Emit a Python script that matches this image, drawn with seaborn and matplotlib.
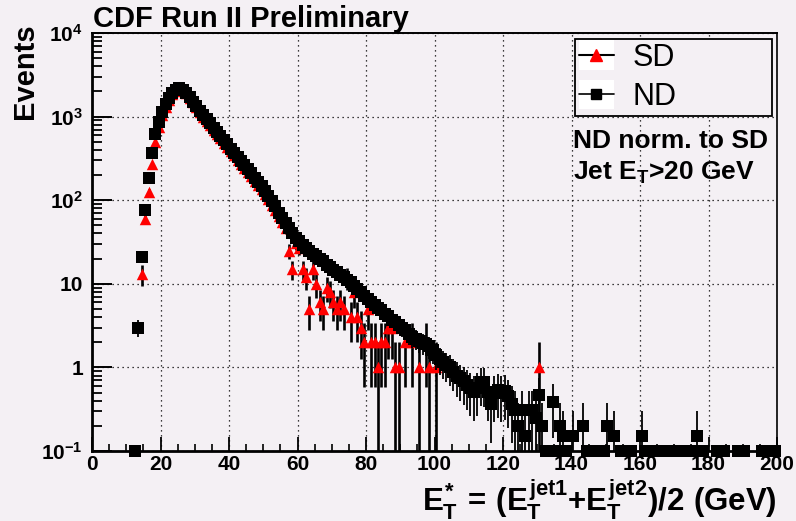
import numpy as np
import pandas as pd
import matplotlib
matplotlib.use("Agg")
import matplotlib.pyplot as plt
import seaborn as sns
from matplotlib.legend_handler import HandlerLine2D
from matplotlib.lines import Line2D
from matplotlib.patches import Rectangle
from matplotlib.ticker import LogLocator, NullFormatter, MultipleLocator

# ---------------- data (1 GeV bins, centres 12.5 ... 199.5) ----------------
et_centers = np.arange(12.5, 200.0, 1.0)

nan = np.nan
nd_events = [
    0.1, 3.0, 21, 77, 186, 364, 613, 870, 1150, 1420,          # 12.5-21.5
    1680, 1900, 2080, 2190, 2090, 1900, 1700, 1510, 1350, 1175,  # 22.5-31.5
    1050, 930, 830, 740, 660, 590, 525, 470, 415, 370,          # 32.5-41.5
    330, 295, 263, 234, 209, 186, 166, 148, 129, 112,           # 42.5-51.5
    98, 85, 71, 62, 53, 46, 40, 35.5, 32.4, 29.5,               # 52.5-61.5
    27, 24.5, 23, 21.4, 20, 18.6, 17, 15.8, 14.8, 13.8,         # 62.5-71.5
    12.9, 12.0, 11.2, 10.5, 9.5, 8.7, 7.9, 7.2, 6.6, 6.0,       # 72.5-81.5
    5.6, 5.1, 4.8, 4.4, 4.1, 3.7, 3.5, 3.2, 3.0, 2.8,           # 82.5-91.5
    2.5, 2.3, 2.2, 2.05, 1.95, 1.9, 1.8, 1.6, 1.4, 1.25,        # 92.5-101.5
    1.16, 1.07, 1.0, 0.89, 0.8, 0.74, 0.68, 0.62, 0.56, 0.51,   # 102.5-111.5
    0.56, 0.67, 0.66, 0.51, 0.36, 0.5, 0.54, 0.5, 0.52, 0.45,   # 112.5-121.5
    0.36, 0.31, 0.2, 0.31, 0.15, 0.31, 0.31, 0.25, 0.47, 0.2,   # 122.5-131.5
    0.1, 0.1, 0.39, 0.1, 0.2, 0.15, 0.1, nan, 0.15, nan,        # 132.5-141.5
    nan, 0.2, 0.1, 0.1, 0.1, 0.1, 0.1, 0.1, 0.2, nan,           # 142.5-151.5
    0.15, nan, 0.1, 0.1, 0.1, 0.1, nan, nan, 0.15, 0.1,         # 152.5-161.5
    0.1, 0.1, 0.1, 0.1, 0.1, 0.1, 0.1, 0.1, 0.1, 0.1,           # 162.5-171.5
    0.1, 0.1, 0.1, 0.1, 0.15, 0.1, 0.1, nan, nan, nan,          # 172.5-181.5
    0.1, 0.1, 0.1, nan, nan, nan, 0.1, 0.1, 0.1, nan,           # 182.5-191.5
    nan, nan, nan, 0.1, 0.1, 0.1, 0.1, 0.1,                     # 192.5-199.5
]

sd_events = [
    nan, nan, 13, 60, 126, 270, 490, 760, 1040, 1300,           # 12.5-21.5
    1580, 1840, 2050, 2250, 2110, 1890, 1680, 1480, 1300, 1130,  # 22.5-31.5
    1000, 880, 790, 700, 620, 550, 480, 435, 385, 345,          # 32.5-41.5
    305, 272, 244, 216, 193, 170, 152, 136, 117, 102,           # 42.5-51.5
    88, 77, 64, 55, 46, 25, 15, 31, 27, 15,                     # 52.5-61.5
    12, 5, 15, 10, 6, 5, 9, 8, 6, 5,                            # 62.5-71.5
    6, 5, 12, 4, 8, 4, 3, 2, 5, 2,                              # 72.5-81.5
    2, 1, 2, 2, 3, 3, 1, 1, nan, 2,                             # 82.5-91.5
    nan, 2, nan, 1, nan, 2, 1, nan, 1, nan,                     # 92.5-101.5
    nan, nan, nan, nan, nan, nan, nan, nan, nan, nan,           # 102.5-111.5
    nan, nan, nan, nan, nan, nan, nan, nan, nan, nan,           # 112.5-121.5
    nan, nan, nan, nan, nan, nan, nan, nan, 1, nan,             # 122.5-131.5
] + [nan] * 68                                                  # 132.5-199.5

nd_weight = 0.155   # ND event weight after normalisation to SD

x_ticks = [0, 20, 40, 60, 80, 100, 120, 140, 160, 180, 200]
x_tick_labels = [str(v) for v in x_ticks]
y_ticks = [0.1, 1, 10, 100, 1000, 10000]
y_tick_labels = [r"$10^{-1}$", "1", "10", r"$10^{2}$", r"$10^{3}$", r"$10^{4}$"]

series_labels = ["SD", "ND"]
title_text = "CDF Run II Preliminary"
note_lines = ["ND norm. to SD", r"Jet E$_T$>20 GeV"]

# ---------------- style ----------------
BG = "#f4f0f4"
sns.set_theme(style="ticks")
plt.rcParams["font.family"] = ["Liberation Sans", "DejaVu Sans"]
plt.rcParams["mathtext.fontset"] = "custom"
plt.rcParams["mathtext.rm"] = "Liberation Sans:bold"
plt.rcParams["mathtext.it"] = "Liberation Sans:bold"
plt.rcParams["mathtext.bf"] = "Liberation Sans:bold"
plt.rcParams["mathtext.sf"] = "Liberation Sans:bold"
for key in ["text.color", "axes.labelcolor", "xtick.color", "ytick.color",
            "axes.edgecolor"]:
    plt.rcParams[key] = "black"

fig = plt.figure(figsize=(7.96, 5.21), dpi=100, facecolor=BG)
ax = fig.add_axes([92 / 796, 1 - 451 / 521, (777 - 92) / 796, (451 - 33) / 521])
ax.set_facecolor(BG)
ax.set_yscale("log", nonpositive="clip")

nd = np.array(nd_events, dtype=float)
sd = np.array(sd_events, dtype=float)

# error bars (Poisson)
sd_err = np.sqrt(sd)
sd_lo = sd - np.clip(sd - sd_err, 1e-4, None)
ax.errorbar(et_centers, sd, yerr=[sd_lo, sd_err], fmt="none", ecolor="black",
            elinewidth=1.9, capsize=0, zorder=2.6)

nd_err = np.where(nd > 0.1, np.sqrt(np.where(nd > 0, nd, 0) * nd_weight), 0.0)
nd_lo = nd - np.clip(nd - nd_err, 1e-4, None)
ax.errorbar(et_centers, nd, yerr=[nd_lo, nd_err], fmt="none", ecolor="black",
            elinewidth=1.3, capsize=0, zorder=3.5)

df_sd = pd.DataFrame({"et": et_centers, "events": sd}).dropna()
df_nd = pd.DataFrame({"et": et_centers, "events": nd}).dropna()
sns.scatterplot(data=df_sd, x="et", y="events", marker="^", color="red", s=68,
                linewidth=0, ax=ax, zorder=3, clip_on=False, legend=False)
sns.scatterplot(data=df_nd, x="et", y="events", marker="s", color="black", s=80,
                linewidth=0, ax=ax, zorder=4, clip_on=False, legend=False)

ax.set_xlim(0, 200)
ax.set_ylim(0.1, 1e4)
ax.set_xlabel("")
ax.set_ylabel("")

ax.set_xticks(x_ticks)
ax.set_xticklabels(x_tick_labels, fontsize=15, fontweight="bold", color="black")
ax.xaxis.set_minor_locator(MultipleLocator(5))
ax.set_yticks(y_ticks)
ax.set_yticklabels(y_tick_labels, fontsize=15, fontweight="bold", color="black")
ax.yaxis.set_minor_locator(LogLocator(base=10, subs=np.arange(2, 10)))
ax.yaxis.set_minor_formatter(NullFormatter())

ax.tick_params(axis="y", which="major", direction="in", length=14.5, width=1.4,
               left=True, right=False, pad=6.5, colors="black")
ax.tick_params(axis="y", which="minor", direction="in", length=7.5, width=1.3,
               left=True, right=False, colors="black")
ax.tick_params(axis="x", which="major", direction="in", length=10, width=1.3,
               bottom=True, top=False, pad=3, colors="black")
ax.tick_params(axis="x", which="minor", direction="in", length=5, width=1.2,
               bottom=True, top=False, colors="black")

ax.grid(True, which="major", color="black", linestyle=(0, (1, 3)), linewidth=0.9)
ax.set_axisbelow(True)
for side, lw in [("left", 2.0), ("bottom", 2.0), ("top", 1.4), ("right", 1.2)]:
    ax.spines[side].set_visible(True)
    ax.spines[side].set_linewidth(lw)
    ax.spines[side].set_color("black")


# ---------------- legend ----------------
class WhiteBoxHandler(HandlerLine2D):
    def create_artists(self, legend, orig_handle, xdescent, ydescent, width,
                       height, fontsize, trans):
        arts = super().create_artists(legend, orig_handle, xdescent, ydescent,
                                      width, height, fontsize, trans)
        box = Rectangle((-xdescent, -ydescent - 0.15 * height), width, 1.3 * height,
                        facecolor="white", edgecolor="none", transform=trans)
        return [box] + list(arts)


h_sd = Line2D([0], [0], color="black", lw=1.5, marker="^", markersize=8,
              markerfacecolor="red", markeredgecolor="red")
h_nd = Line2D([0], [0], color="black", lw=1.2, marker="s", markersize=6.5,
              markerfacecolor="black", markeredgecolor="black")
leg = ax.legend([h_sd, h_nd], series_labels, loc="upper left",
                bbox_to_anchor=(575 / 796, 1 - 116 / 521, (772 - 575) / 796, 77 / 521),
                bbox_transform=fig.transFigure, mode="expand", borderaxespad=0,
                prop={"family": "Liberation Sans", "size": 22},
                frameon=True, fancybox=False, framealpha=1, facecolor=BG,
                edgecolor="black", borderpad=0.12, labelspacing=0.3,
                handlelength=1.15, handletextpad=0.6, handleheight=0.75,
                handler_map={Line2D: WhiteBoxHandler(numpoints=1)})
leg.get_frame().set_linewidth(1.3)
leg.set_zorder(6)
for t in leg.get_texts():
    t.set_color("black")

# ---------------- texts ----------------
fig.text(93 / 796, 1 - 27 / 521, title_text, fontsize=21, fontweight="bold",
         va="baseline", ha="left", color="black")
fig.text(33 / 796, 1 - 23 / 521, "Events", fontsize=21, fontweight="bold",
         rotation=90, rotation_mode="anchor", ha="right", va="baseline", color="black")
fig.text(777 / 796, 1 - 511 / 521,
         r"$E_T^{*}\,=\,(E_T^{jet1}{+}E_T^{jet2})/2\ (GeV)$",
         fontsize=22.5, ha="right", va="baseline", color="black")
fig.text(573 / 796, 1 - 148 / 521, note_lines[0], fontsize=19, fontweight="bold",
         va="baseline", ha="left", color="black")
fig.text(573 / 796, 1 - 180 / 521, note_lines[1], fontsize=19, fontweight="bold",
         va="baseline", ha="left", color="black")

fig.savefig("out.png", dpi=100, facecolor=BG)
